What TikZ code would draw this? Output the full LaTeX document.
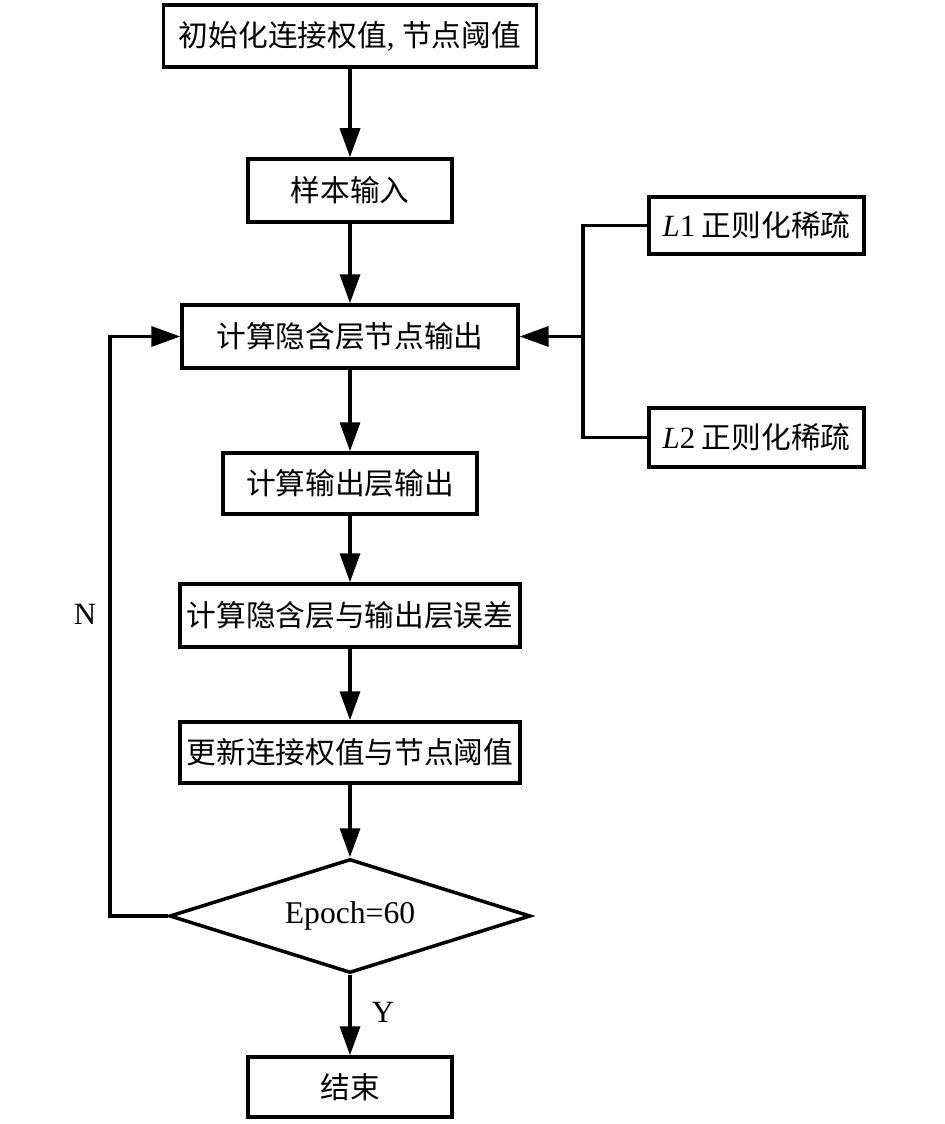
\documentclass[tikz,border=0pt]{standalone}
\usepackage{fontspec}
\setmainfont{Liberation Serif}
\newfontfamily\cjk{Noto Sans CJK SC}
\usetikzlibrary{arrows.meta,shapes.geometric}
\begin{document}
\begin{tikzpicture}[x=0.02cm,y=-0.02cm,
  box/.style={draw, line width=2pt, rectangle, inner sep=0pt, font=\fontsize{16.9}{20}\selectfont\cjk},
  lbl/.style={inner sep=0pt, font=\fontsize{17.6}{20}\selectfont},
  arr/.style={line width=2pt, -{Triangle[width=0.4cm,length=0.58cm]}},
  ln/.style={line width=2pt}]
\useasboundingbox (0,0) rectangle (945,1124);
\node[box, minimum width=7.46cm, minimum height=1.24cm] (b1) at (350,36) {初始化连接权值{\rmfamily\fontsize{17.6}{20}\selectfont, }节点阈值};
\node[box, minimum width=4.08cm, minimum height=1.26cm] (b2) at (350,190.5) {样本输入};
\node[box, minimum width=6.72cm, minimum height=1.26cm] (b3) at (350,336.5) {计算隐含层节点输出};
\node[box, minimum width=5.08cm, minimum height=1.22cm] (b4) at (350,483.5) {计算输出层输出};
\node[box, minimum width=6.8cm, minimum height=1.26cm] (b5) at (350,615.5) {计算隐含层与输出层误差};
\node[box, minimum width=6.8cm, minimum height=1.22cm] (b6) at (350,752.5) {更新连接权值与节点阈值};
\node[box, shape=diamond, aspect=3.17, minimum width=7.22cm, minimum height=2.28cm, font=\fontsize{18}{20}\selectfont] (d) at (350,916) {Epoch=60};
\node[box, minimum width=4.08cm, minimum height=1.2cm] (e) at (350,1087) {结束};
\node[box, minimum width=4.3cm, minimum height=1.14cm] (l1) at (756.5,225.5) {{\rmfamily\fontsize{17.6}{20}\selectfont\itshape L}{\rmfamily\fontsize{17.6}{20}\selectfont 1} 正则化稀疏};
\node[box, minimum width=4.3cm, minimum height=1.18cm] (l2) at (756.5,437.5) {{\rmfamily\fontsize{17.6}{20}\selectfont\itshape L}{\rmfamily\fontsize{17.6}{20}\selectfont 2} 正则化稀疏};
\coordinate (j) at (583,336.5);
\coordinate (lp) at (110,916);
\draw[arr] (b1) -- (b2);
\draw[arr] (b2) -- (b3);
\draw[arr] (b3) -- (b4);
\draw[arr] (b4) -- (b5);
\draw[arr] (b5) -- (b6);
\draw[arr] (b6) -- (d);
\draw[arr] (d) -- (e);
\draw[ln] (l1.west) -| (j);
\draw[ln] (l2.west) -| (j);
\draw[arr] (j) -- (b3.east);
\draw[arr] (d.west) -- (lp) |- (b3.west);
\node[lbl] (n) at (85,614) {N};
\node[lbl] (y) at (383,1012) {Y};
\end{tikzpicture}
\end{document}
